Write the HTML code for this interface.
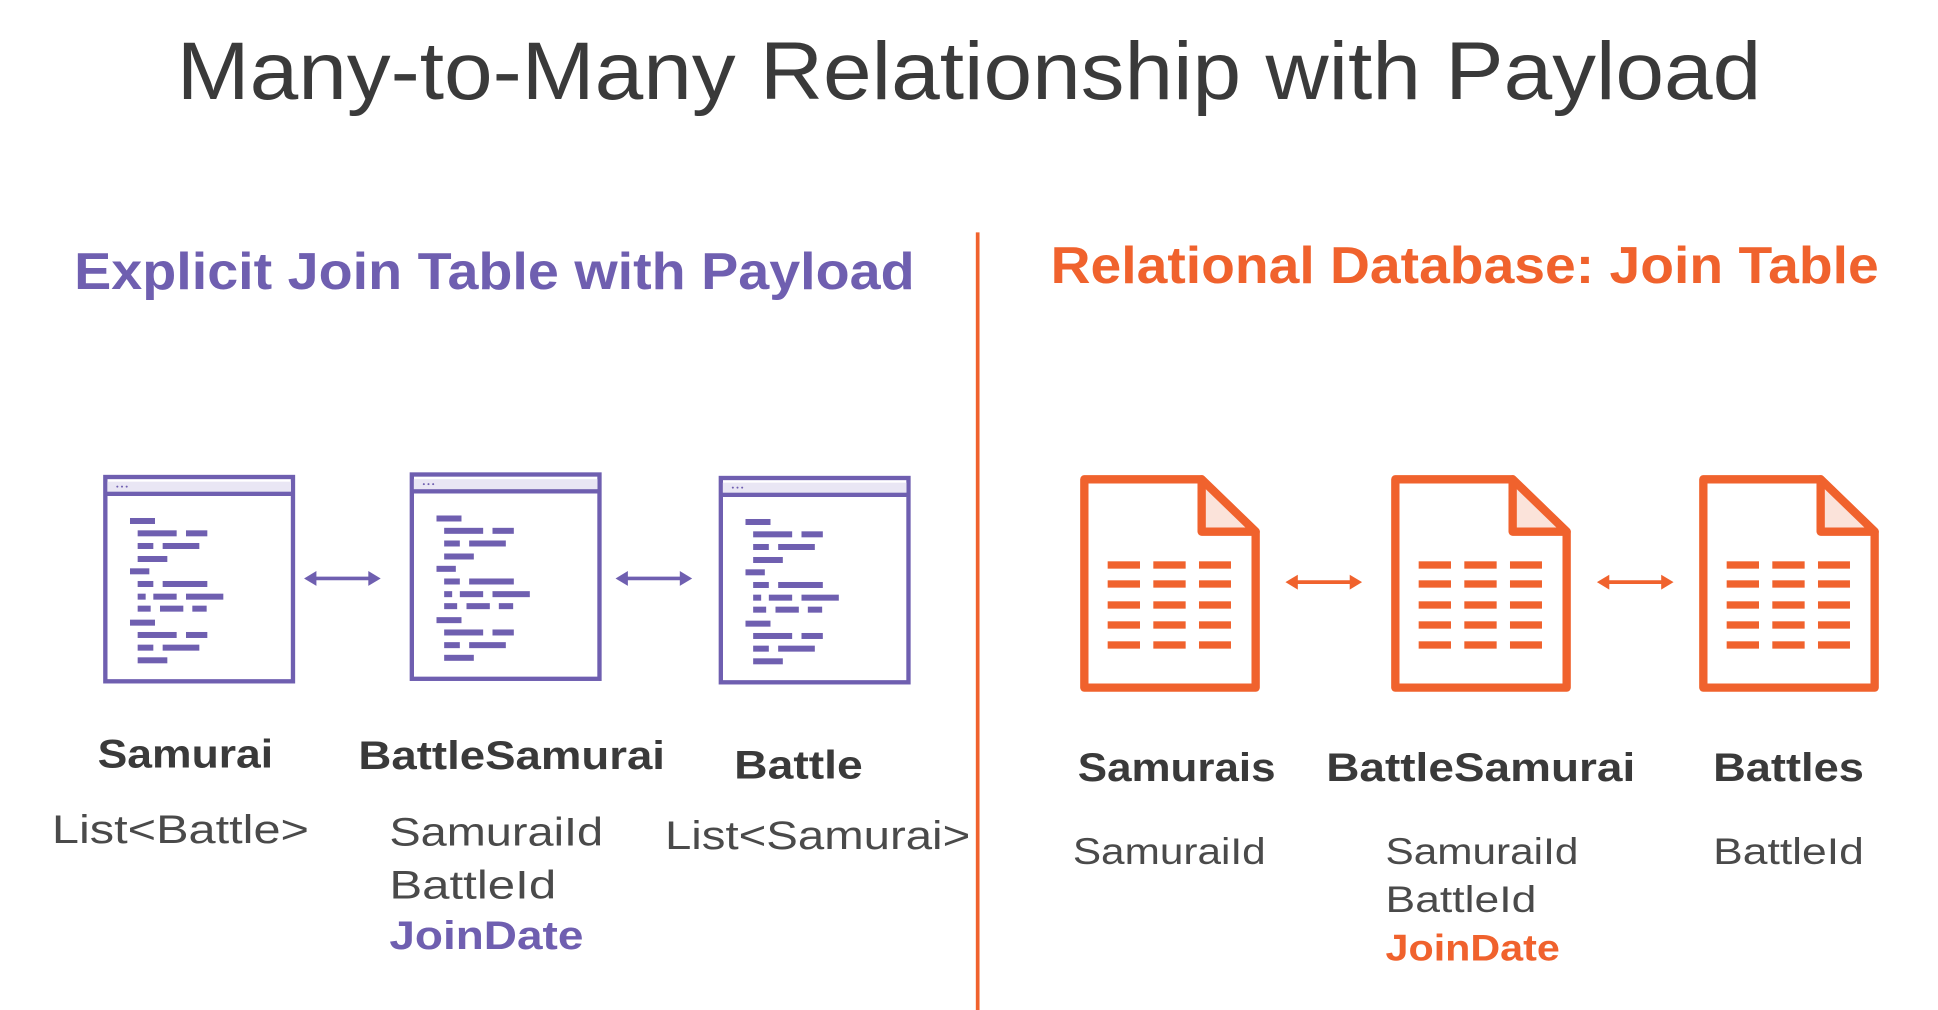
<!DOCTYPE html>
<html><head><meta charset="utf-8"><style>
html,body{margin:0;padding:0;background:#fff;}
svg{display:block}
text{font-family:"Liberation Sans",sans-serif;}
</style></head><body>
<svg width="1938" height="1010" viewBox="0 0 1938 1010" xmlns="http://www.w3.org/2000/svg">
<defs>
<g id="win">
<rect x="16" y="21" width="563" height="613" fill="#fff" stroke="#6f5fb0" stroke-width="13"/>
<rect x="22" y="35" width="551" height="30" fill="#e9e6f4"/>
<rect x="22" y="65" width="551" height="13" fill="#6f5fb0"/>
<circle cx="52" cy="50" r="3" fill="#6f5fb0"/><circle cx="66" cy="50" r="3" fill="#6f5fb0"/><circle cx="80" cy="50" r="3" fill="#6f5fb0"/>
<g fill="#6f5fb0">
<rect x="90" y="144" width="75" height="18"/>
<rect x="113" y="181" width="117" height="18"/><rect x="258" y="181" width="64" height="18"/>
<rect x="113" y="219" width="47" height="18"/><rect x="188" y="219" width="110" height="18"/>
<rect x="113" y="258" width="89" height="18"/>
<rect x="90" y="295" width="58" height="18"/>
<rect x="113" y="333" width="47" height="18"/><rect x="188" y="333" width="134" height="18"/>
<rect x="113" y="371" width="24" height="18"/><rect x="160" y="371" width="70" height="18"/><rect x="258" y="371" width="112" height="18"/>
<rect x="113" y="407" width="39" height="18"/><rect x="180" y="407" width="70" height="18"/><rect x="277" y="407" width="43" height="18"/>
<rect x="90" y="449" width="75" height="18"/>
<rect x="113" y="486" width="117" height="18"/><rect x="258" y="486" width="64" height="18"/>
<rect x="113" y="524" width="47" height="18"/><rect x="188" y="524" width="110" height="18"/>
<rect x="113" y="562" width="89" height="18"/>
</g>
</g>
<g id="doc">
<path d="M43 43 L395 43 L557 200 L557 668 L43 668 Z" fill="#fff" stroke="#f0622d" stroke-width="25" stroke-linejoin="round"/>
<path d="M395 43 L395 200 L557 200 Z" fill="#fbe3da" stroke="#f0622d" stroke-width="25" stroke-linejoin="round"/>
<g fill="#f0622d">
<rect x="113" y="289" width="97" height="22"/><rect x="250" y="289" width="97" height="22"/><rect x="387" y="289" width="96" height="22"/>
<rect x="113" y="346" width="97" height="22"/><rect x="250" y="346" width="97" height="22"/><rect x="387" y="346" width="96" height="22"/>
<rect x="113" y="409" width="97" height="22"/><rect x="250" y="409" width="97" height="22"/><rect x="387" y="409" width="96" height="22"/>
<rect x="113" y="469" width="97" height="22"/><rect x="250" y="469" width="97" height="22"/><rect x="387" y="469" width="96" height="22"/>
<rect x="113" y="529" width="97" height="22"/><rect x="250" y="529" width="97" height="22"/><rect x="387" y="529" width="96" height="22"/>
</g>
</g>
</defs>

<use href="#win" transform="translate(100,470) scale(0.3333)"/>
<use href="#win" transform="translate(406.5,467.5) scale(0.3333)"/>
<use href="#win" transform="translate(715.5,471) scale(0.3333)"/>
<use href="#doc" transform="translate(1070,465) scale(0.3333)"/>
<use href="#doc" transform="translate(1381,465) scale(0.3333)"/>
<use href="#doc" transform="translate(1689,465) scale(0.3333)"/>

<g transform="scale(1.236)">
<text x="784" y="80" text-anchor="middle" font-size="66" fill="#3a3a3a" textLength="1282" lengthAdjust="spacingAndGlyphs">Many-to-Many Relationship with Payload</text>
<text x="60" y="234" font-size="42" font-weight="bold" fill="#6f5fb0" textLength="680" lengthAdjust="spacingAndGlyphs">Explicit Join Table with Payload</text>
<text x="850" y="229" font-size="42" font-weight="bold" fill="#f0622d" textLength="670" lengthAdjust="spacingAndGlyphs">Relational Database: Join Table</text>
<rect x="789.5" y="188" width="3" height="640" fill="#f0622d"/>

<g stroke="#6f5fb0" stroke-width="3" fill="#6f5fb0">
<line x1="252" y1="468" x2="302" y2="468"/>
<path d="M246 468 L256 462 L256 474 Z" stroke="none"/><path d="M308 468 L298 462 L298 474 Z" stroke="none"/>
<line x1="504" y1="468" x2="554" y2="468"/>
<path d="M498 468 L508 462 L508 474 Z" stroke="none"/><path d="M560 468 L550 462 L550 474 Z" stroke="none"/>
</g>
<g stroke="#f0622d" stroke-width="3" fill="#f0622d">
<line x1="1046" y1="471" x2="1096" y2="471"/>
<path d="M1040 471 L1050 465 L1050 477 Z" stroke="none"/><path d="M1102 471 L1092 465 L1092 477 Z" stroke="none"/>
<line x1="1298" y1="471" x2="1348" y2="471"/>
<path d="M1292 471 L1302 465 L1302 477 Z" stroke="none"/><path d="M1354 471 L1344 465 L1344 477 Z" stroke="none"/>
</g>

<g font-size="32" font-weight="bold" fill="#3a3a3a">
<text x="79" y="621" textLength="142" lengthAdjust="spacingAndGlyphs">Samurai</text>
<text x="290" y="622" textLength="248" lengthAdjust="spacingAndGlyphs">BattleSamurai</text>
<text x="594" y="630" textLength="104" lengthAdjust="spacingAndGlyphs">Battle</text>
<text x="872" y="632" textLength="160" lengthAdjust="spacingAndGlyphs">Samurais</text>
<text x="1073" y="632" textLength="250" lengthAdjust="spacingAndGlyphs">BattleSamurai</text>
<text x="1386" y="632" textLength="122" lengthAdjust="spacingAndGlyphs">Battles</text>
</g>
<g font-size="32" fill="#4a4a4a">
<text x="42" y="682" textLength="208" lengthAdjust="spacingAndGlyphs">List&lt;Battle&gt;</text>
<text x="315" y="684" textLength="173" lengthAdjust="spacingAndGlyphs">SamuraiId</text>
<text x="315" y="727" textLength="135" lengthAdjust="spacingAndGlyphs">BattleId</text>
<text x="538" y="687" textLength="247" lengthAdjust="spacingAndGlyphs">List&lt;Samurai&gt;</text>
<text x="868" y="699" font-size="30" textLength="156" lengthAdjust="spacingAndGlyphs">SamuraiId</text>
<text x="1121" y="699" font-size="30" textLength="156" lengthAdjust="spacingAndGlyphs">SamuraiId</text>
<text x="1121" y="738" font-size="30" textLength="122" lengthAdjust="spacingAndGlyphs">BattleId</text>
<text x="1386" y="699" font-size="30" textLength="122" lengthAdjust="spacingAndGlyphs">BattleId</text>
</g>
<text x="315" y="768" font-size="32" font-weight="bold" fill="#6f5fb0" textLength="157" lengthAdjust="spacingAndGlyphs">JoinDate</text>
<text x="1121" y="777" font-size="30" font-weight="bold" fill="#f0622d" textLength="141" lengthAdjust="spacingAndGlyphs">JoinDate</text>
</g>
</svg>
</body></html>
